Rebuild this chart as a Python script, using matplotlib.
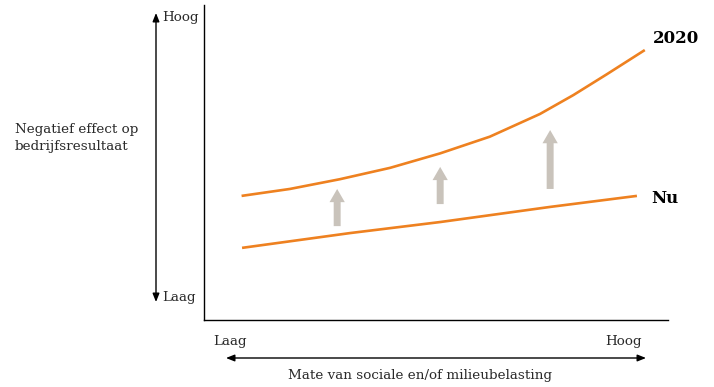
import matplotlib.pyplot as plt
from matplotlib.patches import FancyArrowPatch

# curves (x: 0-100 along milieubelasting, y: 0-100 negative effect)
x_2020 = [8.1, 18.5, 29.3, 40.1, 50.9, 61.6, 72.4, 79.6, 86.8, 95.0]
y_2020 = [39.4, 41.6, 44.7, 48.3, 52.9, 58.2, 65.4, 71.4, 78.0, 85.7]
x_nu = [8.2, 31.5, 50.9, 74.6, 93.3]
y_nu = [22.9, 27.6, 31.1, 35.9, 39.4]

# grey arrows showing the shift from Nu to 2020
arrow_x = [28.7, 50.9, 74.6]
arrow_from = [29.8, 36.8, 41.6]
arrow_to = [41.6, 48.6, 60.3]

orange = '#EE8120'
grey = '#C9C3BB'
txt = '#2a2a2a'
plt.rcParams['font.family'] = ['DejaVu Serif']

W, H = 714, 387
fig = plt.figure(figsize=(W / 100, H / 100), dpi=100)
ax = fig.add_axes([204 / W, (H - 320) / H, (668 - 204) / W, (320 - 5) / H])
ax.set_xlim(0, 100)
ax.set_ylim(0, 100)
ax.set_xticks([])
ax.set_yticks([])
for s in ['top', 'right']:
    ax.spines[s].set_visible(False)
for s in ['left', 'bottom']:
    ax.spines[s].set_linewidth(1.0)

ax.plot(x_2020, y_2020, color=orange, lw=1.9, solid_capstyle='butt', solid_joinstyle='round')
ax.plot(x_nu, y_nu, color=orange, lw=1.9, solid_capstyle='butt', solid_joinstyle='round')

for x, y0, y1 in zip(arrow_x, arrow_from, arrow_to):
    ax.add_patch(FancyArrowPatch((x, y0), (x, y1),
                                 arrowstyle='simple,head_length=0.95,head_width=1.1,tail_width=0.5',
                                 mutation_scale=10, color=grey, lw=0,
                                 shrinkA=0, shrinkB=0))

ax.text(96.8, 89.5, '2020', fontsize=12, fontweight='bold', ha='left', va='center')
ax.text(96.3, 38.5, 'Nu', fontsize=12, fontweight='bold', ha='left', va='center')

def fx(px):
    return px / W

def fy(py):
    return 1 - py / H

# vertical double arrow at the left
fig.patches.append(FancyArrowPatch((fx(156), fy(302)), (fx(156), fy(13)),
                                   transform=fig.transFigure,
                                   arrowstyle='<|-|>,head_length=0.5,head_width=0.2',
                                   mutation_scale=10, color='black', lw=1.0,
                                   shrinkA=0, shrinkB=0))
fig.text(fx(162), fy(17), 'Hoog', fontsize=9.7, ha='left', va='center', color=txt)
fig.text(fx(162), fy(298), 'Laag', fontsize=9.7, ha='left', va='center', color=txt)
fig.text(fx(15), fy(138), 'Negatief effect op\nbedrijfsresultaat', fontsize=9.7,
         ha='left', va='center', linespacing=1.35, color=txt)

# horizontal double arrow at the bottom
fig.patches.append(FancyArrowPatch((fx(226), fy(358)), (fx(646), fy(358)),
                                   transform=fig.transFigure,
                                   arrowstyle='<|-|>,head_length=0.5,head_width=0.2',
                                   mutation_scale=10, color='black', lw=1.0,
                                   shrinkA=0, shrinkB=0))
fig.text(fx(213), fy(341), 'Laag', fontsize=9.7, ha='left', va='center', color=txt)
fig.text(fx(642), fy(341), 'Hoog', fontsize=9.7, ha='right', va='center', color=txt)
fig.text(fx(420), fy(375), 'Mate van sociale en/of milieubelasting', fontsize=9.7,
         ha='center', va='center', color=txt)

fig.savefig('out.png', dpi=100, facecolor='white')
